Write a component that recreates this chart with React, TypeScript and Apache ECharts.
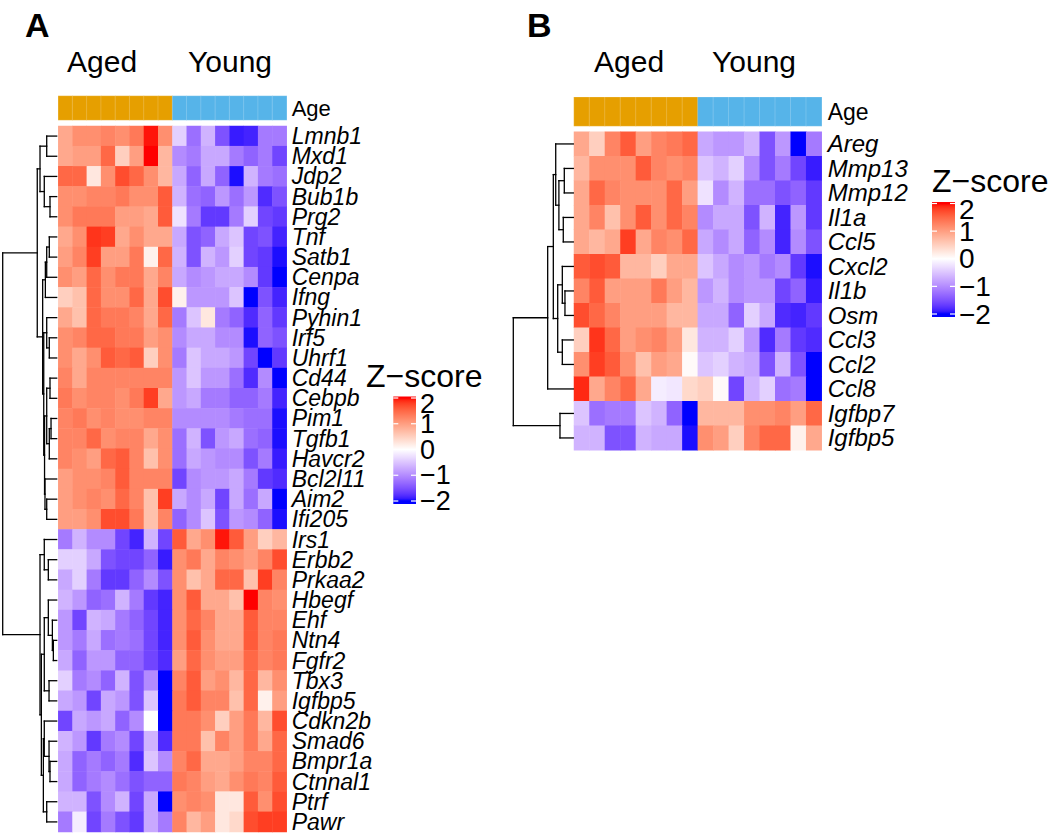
import React, { useEffect, useRef } from 'react';
import * as echarts from 'echarts';

const FONT = '"Liberation Sans", Arial, Helvetica, sans-serif';

const genesA = ['Lmnb1','Mxd1','Jdp2','Bub1b','Prg2','Tnf','Satb1','Cenpa','Ifng','Pyhin1','Irf5','Uhrf1','Cd44','Cebpb','Pim1','Tgfb1','Havcr2','Bcl2l11','Aim2','Ifi205','Irs1','Erbb2','Prkaa2','Hbegf','Ehf','Ntn4','Fgfr2','Tbx3','Igfbp5','Cdkn2b','Smad6','Bmpr1a','Ctnnal1','Ptrf','Pawr'];
const genesB = ['Areg','Mmp13','Mmp12','Il1a','Ccl5','Cxcl2','Il1b','Osm','Ccl3','Ccl2','Ccl8','Igfbp7','Igfbp5'];
const samples = ['A1','A2','A3','A4','A5','A6','A7','A8','Y1','Y2','Y3','Y4','Y5','Y6','Y7','Y8'];
const groupNames = ['Aged', 'Young'];
const sampleGroup = [0,0,0,0,0,0,0,0,1,1,1,1,1,1,1,1];
const ageColors = ['#E69F00', '#56B4E9'];
const legendTicks = [-2, -1, 0, 1, 2];

// z-scores, Aged 1-8 then Young 1-8
const zA = [
  [0.9,1.15,1.15,1.25,1.15,1.35,1.95,1.15, -0.4,-1.25,-0.65,-1.5,-1.9,-1.85,-1.15,-1.15],
  [0.9,1.0,1.0,1.5,0.5,1.0,2.0,0.75, -1.0,-1.15,-0.75,-0.75,-1.15,-1.35,-1.15,-1.6],
  [1.5,1.5,0.25,1.15,1.7,1.5,1.15,0.75, -0.75,-1.35,-0.75,-1.35,-1.95,-0.65,-1.15,-1.25],
  [1.15,1.15,1.25,1.25,1.35,1.15,1.15,1.6, -0.65,-1.25,-1.35,-0.9,-1.25,-0.9,-1.8,-1.5],
  [1.15,1.35,1.35,1.35,1.0,1.0,0.9,1.6, -0.25,-1.15,-1.7,-1.7,-1.15,-0.4,-1.6,-1.7],
  [0.9,1.15,1.85,1.8,0.9,1.15,0.9,0.9, -0.75,-1.5,-1.35,-0.75,-0.5,-1.6,-1.5,-1.85],
  [1.0,1.25,1.8,1.0,1.0,1.35,0.15,1.5, -0.65,-1.5,-0.65,-0.9,-0.4,-1.6,-1.7,-1.95],
  [1.15,1.0,1.5,1.15,1.35,1.35,0.9,1.25, -0.75,-1.0,-0.9,-0.75,-0.75,-1.0,-1.7,-2.0],
  [0.5,0.65,1.5,1.15,1.15,1.5,0.9,1.7, 0.15,-0.9,-0.9,-0.9,-0.5,-2.0,-1.5,-1.85],
  [0.9,0.65,1.5,1.35,1.35,1.25,0.9,1.5, -1.15,-0.5,0.25,-1.15,-1.35,-1.8,-1.35,-1.7],
  [1.15,1.25,1.5,1.5,1.35,1.35,1.0,1.15, -1.0,-0.75,-0.75,-1.0,-1.0,-1.95,-1.35,-1.5],
  [1.15,0.9,1.15,1.6,1.5,1.6,0.5,1.15, -1.15,-0.5,-0.75,-0.75,-0.9,-1.6,-2.0,-1.7],
  [1.25,0.9,1.25,1.25,1.25,1.25,1.25,1.25, -0.9,-0.5,-0.9,-0.9,-1.25,-1.8,-1.0,-2.0],
  [1.35,1.15,1.25,1.25,1.15,1.35,1.8,0.9, -0.9,-0.75,-1.15,-1.15,-1.35,-1.35,-1.15,-1.85],
  [1.25,1.35,1.15,1.25,1.15,1.15,1.25,1.25, -1.0,-1.0,-1.0,-1.0,-1.15,-1.25,-1.25,-1.95],
  [1.25,1.25,1.5,1.15,1.25,1.25,0.9,1.15, -1.25,-0.65,-1.5,-0.9,-0.75,-1.25,-1.35,-1.95],
  [1.25,1.15,1.0,1.5,1.6,1.25,0.65,1.15, -1.25,-0.75,-0.9,-1.0,-1.0,-1.5,-1.15,-1.9],
  [1.0,1.15,1.15,1.25,1.6,1.25,1.25,1.25, -1.6,-1.0,-0.9,-0.9,-0.75,-1.15,-1.7,-1.8],
  [1.0,1.15,1.25,1.15,1.5,1.25,0.65,1.8, -0.75,-1.0,-0.75,-1.6,-0.75,-1.25,-0.75,-2.0],
  [1.0,1.0,1.15,1.7,1.7,1.35,0.65,1.25, -1.35,-1.0,-0.5,-1.5,-0.9,-1.0,-1.35,-1.95],
  [-1.15,-0.65,-1.0,-1.0,-1.6,-1.85,-0.65,-1.6, 1.6,0.9,1.15,1.95,1.6,1.0,0.5,0.75],
  [-0.4,-0.4,-0.75,-1.5,-1.6,-1.6,-1.35,-1.9, 1.15,1.35,0.9,1.25,1.15,1.0,1.25,1.7],
  [-0.75,-0.4,-1.15,-1.7,-1.7,-1.35,-1.0,-1.5, 1.15,0.65,0.9,1.5,1.5,0.65,1.8,1.25],
  [-0.65,-0.9,-1.35,-1.25,-0.65,-1.15,-1.7,-1.85, 1.15,1.6,0.9,0.9,0.65,2.0,1.25,1.15],
  [-0.9,-1.6,-0.65,-0.75,-1.15,-1.35,-1.6,-1.85, 1.15,1.5,1.25,0.9,0.9,1.6,1.25,1.25],
  [-0.9,-1.15,-0.75,-1.25,-1.15,-1.25,-1.6,-1.85, 1.15,1.6,1.15,0.9,0.9,1.6,1.25,1.35],
  [-0.75,-1.35,-0.9,-0.9,-1.35,-1.35,-1.6,-1.8, 1.0,1.5,1.15,1.0,1.0,1.5,1.25,1.35],
  [-0.4,-1.15,-1.0,-1.35,-0.65,-1.5,-1.0,-2.0, 1.25,1.6,1.0,1.15,0.75,1.5,0.75,1.15],
  [-0.75,-0.9,-1.6,-0.75,-0.9,-1.5,-0.5,-2.0, 1.35,1.6,1.25,1.25,0.65,1.5,0.15,1.0],
  [-1.6,-0.75,-0.9,-0.75,-1.35,-1.0,0.0,-2.0, 1.35,1.35,1.15,0.5,1.0,1.35,0.75,1.7],
  [-0.65,-0.9,-1.7,-1.15,-1.0,-1.6,-0.65,-1.8, 1.35,1.35,0.65,1.25,1.0,1.35,0.9,1.5],
  [-0.75,-1.35,-1.15,-1.35,-1.15,-1.8,-0.5,-1.0, 1.25,1.5,0.9,0.9,1.0,1.25,1.25,1.5],
  [-0.75,-1.35,-1.15,-1.0,-1.25,-1.5,-1.35,-1.35, 1.35,1.25,1.0,0.9,1.15,1.35,1.25,1.6],
  [-0.65,-0.65,-1.5,-1.0,-0.65,-1.6,-0.75,-2.0, 1.15,1.25,1.15,0.25,0.25,1.6,1.15,1.7],
  [-1.15,-0.15,-1.6,-1.15,-1.5,-1.7,-0.75,-1.15, 1.25,0.75,1.0,0.25,0.4,1.7,1.8,1.8],
];

const zB = [
  [0.9,0.5,1.25,1.6,1.0,1.25,1.35,1.5, -0.75,-0.9,-0.9,-0.65,-1.5,-0.9,-2.0,-1.15],
  [0.75,1.15,1.15,1.15,1.6,1.25,1.15,1.25, -0.5,-0.65,-0.4,-1.0,-1.5,-1.15,-1.6,-1.9],
  [0.9,1.5,1.25,1.15,1.15,1.15,1.5,1.0, -0.25,-1.0,-0.65,-1.25,-1.25,-1.5,-1.35,-1.7],
  [0.9,1.25,0.65,1.15,1.6,1.15,1.5,1.25, -1.0,-0.75,-0.75,-1.5,-0.65,-1.85,-0.9,-1.7],
  [0.9,0.75,0.9,1.8,0.9,1.25,1.15,1.5, -0.75,-1.0,-0.75,-1.35,-1.0,-1.85,-1.0,-1.5],
  [1.6,1.7,1.6,0.75,0.75,0.5,0.9,0.9, -0.5,-0.75,-1.0,-0.9,-1.15,-1.0,-1.7,-1.95],
  [1.25,1.6,1.0,1.0,1.0,1.35,1.0,0.75, -0.9,-0.65,-1.0,-0.9,-0.9,-1.6,-1.35,-1.9],
  [1.7,1.5,1.25,1.0,1.0,1.0,0.75,0.75, -0.75,-0.75,-1.35,-0.4,-0.75,-1.8,-1.85,-1.7],
  [0.5,1.85,1.5,1.0,1.15,1.25,1.0,0.25, -0.65,-0.65,-0.4,-0.9,-1.8,-1.15,-1.7,-1.8],
  [1.15,1.8,1.6,1.15,0.65,1.0,0.9,0.05, -0.5,-0.4,-0.65,-0.75,-1.5,-0.65,-1.5,-2.0],
  [1.9,0.9,1.25,1.5,0.9,-0.15,-0.2,0.4, 0.5,0.05,-1.6,-0.65,-0.4,-1.25,-1.15,-2.0],
  [-0.5,-1.25,-1.15,-1.15,-0.5,-0.65,-1.35,-2.0, 0.75,0.75,0.75,1.15,1.15,1.25,1.0,1.5],
  [-0.65,-0.65,-1.5,-1.5,-0.65,-0.75,-0.75,-1.95, 1.15,1.0,0.5,1.25,1.5,1.5,0.15,0.9],
];

// dendrograms: [left, right, height]; leaves are row indices
const treeA = [
  [
    [[0, 1, 1.85], [2, [3, 4, 1.24], 2.3], 3.09],
    [
      [[[5, 6, 1.37], 7, 1.85], 8, 2.1],
      [
        [9, [10, 11, 1.37], 1.85],
        [[[12, 13, 1.24], [[14, 15, 1.05], 16, 1.37], 1.85], [17, [18, 19, 1.85], 2.17], 2.25],
        2.4,
      ],
      2.6,
    ],
    3.6,
  ],
  [
    [20, [21, 22, 1.55], 2.3],
    [
      [[23, [24, [25, 26, 0.62], 0.8], 1.55], [27, 28, 1.42], 2.3],
      [[29, [30, [31, 32, 1.24], 1.42], 2.3], [33, 34, 1.85], 2.47],
      2.84,
    ],
    3.09,
  ],
  10,
];

const treeB = [
  [
    [[0, [[1, 2, 1.5], [3, 4, 1.67], 2.4], 2.93], [[5, [6, 7, 1.39], 1.83], [8, 9, 1.83], 2.6], 3.33],
    10,
    4.27,
  ],
  [11, 12, 2.22],
  10,
];

// ---------- colour ramp (LAB interpolation blue - white - red) ----------
function toLin(c: number) { c /= 255; return c <= 0.04045 ? c / 12.92 : Math.pow((c + 0.055) / 1.055, 2.4); }
function fromLin(c: number) { const v = c <= 0.0031308 ? 12.92 * c : 1.055 * Math.pow(c, 1 / 2.4) - 0.055; return Math.round(Math.max(0, Math.min(1, v)) * 255); }
function rgbToLab(rgb: number[]) {
  const [r, g, b] = rgb.map(toLin);
  const X = (0.4124 * r + 0.3576 * g + 0.1805 * b) / 0.95047;
  const Y = 0.2126 * r + 0.7152 * g + 0.0722 * b;
  const Z = (0.0193 * r + 0.1192 * g + 0.9505 * b) / 1.08883;
  const f = (t: number) => (t > 0.008856 ? Math.cbrt(t) : 7.787 * t + 16 / 116);
  return [116 * f(Y) - 16, 500 * (f(X) - f(Y)), 200 * (f(Y) - f(Z))];
}
function labToHex(lab: number[]) {
  const fy = (lab[0] + 16) / 116, fx = fy + lab[1] / 500, fz = fy - lab[2] / 200;
  const inv = (t: number) => (t * t * t > 0.008856 ? t * t * t : (t - 16 / 116) / 7.787);
  const X = inv(fx) * 0.95047, Y = inv(fy), Z = inv(fz) * 1.08883;
  const r = 3.2406 * X - 1.5372 * Y - 0.4986 * Z;
  const g = -0.9689 * X + 1.8758 * Y + 0.0415 * Z;
  const b = 0.0557 * X - 0.204 * Y + 1.057 * Z;
  return '#' + [r, g, b].map((c) => fromLin(c).toString(16).padStart(2, '0')).join('');
}
const LAB_BLUE = rgbToLab([0, 0, 255]);
const LAB_WHITE = rgbToLab([255, 255, 255]);
const LAB_RED = rgbToLab([255, 0, 0]);
function rampColor(v: number) {
  const x = Math.max(-2, Math.min(2, v));
  const a = x <= 0 ? LAB_BLUE : LAB_WHITE;
  const b = x <= 0 ? LAB_WHITE : LAB_RED;
  const t = x <= 0 ? (x + 2) / 2 : x / 2;
  return labToHex([0, 1, 2].map((i) => a[i] + (b[i] - a[i]) * t));
}
const rampColors = Array.from({ length: 41 }, (_, k) => rampColor(-2 + k * 0.1));

// ---------- dendrogram layout ----------
function layoutTree(node: any, segs: number[][]): { y: number; h: number } {
  if (typeof node === 'number') return { y: node + 0.5, h: 0 };
  const L = layoutTree(node[0], segs);
  const R = layoutTree(node[1], segs);
  const h = node[2];
  segs.push([L.h, L.y, h, L.y]);
  segs.push([R.h, R.y, h, R.y]);
  segs.push([h, L.y, h, R.y]);
  return { y: (L.y + R.y) / 2, h };
}

function heatData(z: number[][]) {
  const out: number[][] = [];
  z.forEach((row, r) => row.forEach((v, c) => out.push([c, r, v])));
  return out;
}

const minus = (v: number) => String(v).replace('-', '\u2212');

export default function App() {
  const ref = useRef<HTMLDivElement>(null);
  useEffect(() => {
    if (!ref.current) return;
    const chart = echarts.init(ref.current, undefined, { renderer: 'svg' });
    const segA: number[][] = [];
    layoutTree(treeA, segA);
    const segB: number[][] = [];
    layoutTree(treeB, segB);

    const G = (left: number, top: number, width: number, height: number) => ({
      left, top, width, height, containLabel: false, outerBoundsMode: 'none',
    });
    const hiddenVal = (gi: number, min: number, max: number, inverse = false) => ({
      type: 'value', gridIndex: gi, min, max, inverse, show: false,
    });
    const catHidden = (gi: number, data: string[]) => ({
      type: 'category', gridIndex: gi, data, show: false,
    });
    const labelAxis = (gi: number, data: string[], size: number, italic: boolean, margin: number, lh: number) => ({
      type: 'category', gridIndex: gi, data, inverse: true, position: 'right',
      axisLine: { show: false }, axisTick: { show: false }, splitLine: { show: false },
      axisLabel: { show: true, interval: 0, margin, fontSize: size, lineHeight: lh, fontStyle: italic ? 'italic' : 'normal', color: '#000', fontFamily: FONT },
    });

    const dendroRender = (params: any, api: any) => {
      const p1 = api.coord([api.value(0), api.value(1)]);
      const p2 = api.coord([api.value(2), api.value(3)]);
      return {
        type: 'line',
        shape: { x1: p1[0], y1: p1[1], x2: p2[0], y2: p2[1] },
        style: { stroke: '#000', lineWidth: 1.3, lineCap: 'square' },
      };
    };
    const legendRender = (fontSize: number, lh: number) => (params: any, api: any) => {
      const a = api.coord([0, 2]);
      const b = api.coord([1, -2]);
      const x0 = a[0], x1 = b[0];
      const yTop = a[1] - 1.5, yBot = b[1] + 3;
      const stops: any[] = [{ offset: 0, color: rampColor(2) }];
      for (let k = 0; k <= 40; k++) {
        const v = 2 - k * 0.1;
        const off = (api.coord([0, v])[1] - yTop) / (yBot - yTop);
        stops.push({ offset: Math.max(0, Math.min(1, off)), color: rampColor(v) });
      }
      stops.push({ offset: 1, color: rampColor(-2) });
      const children: any[] = [
        {
          type: 'rect',
          shape: { x: x0, y: yTop, width: x1 - x0, height: yBot - yTop },
          style: { fill: { type: 'linear', x: 0, y: 0, x2: 0, y2: 1, colorStops: stops } },
        },
      ];
      const maxTick = Math.max(...legendTicks);
      legendTicks.forEach((t) => {
        const y = api.coord([0, t])[1];
        children.push({ type: 'line', shape: { x1: x0, y1: y, x2: x0 + 5, y2: y }, style: { stroke: '#fff', lineWidth: 1.2 } });
        children.push({ type: 'line', shape: { x1: x1 - 5, y1: y, x2: x1, y2: y }, style: { stroke: '#fff', lineWidth: 1.2 } });
        children.push({
          type: 'text',
          x: x1 + 4,
          y: t === maxTick ? y + 6 : y,
          style: {
            text: minus(t), font: `${fontSize}px ${FONT}`, fill: '#000', lineHeight: lh,
            textAlign: 'left', textVerticalAlign: 'middle', verticalAlign: 'middle',
          },
        });
      });
      return { type: 'group', children };
    };

    const text = (t: string, x: number, y: number, size: number, bold = false) => ({
      type: 'text', x, y,
      style: { text: t, font: `${bold ? 'bold ' : ''}${size}px ${FONT}`, fill: '#000', textAlign: 'left', textVerticalAlign: 'middle' },
    });

    const option: any = {
      animation: false,
      backgroundColor: '#fff',
      textStyle: { fontFamily: FONT },
      grid: [
        G(58.3, 126, 228.4, 706), // 0 heat A
        G(58.3, 96, 228.4, 24), // 1 annot A
        G(2.7, 126, 54, 706), // 2 dendro A
        G(574, 131.7, 247.7, 318.5), // 3 heat B
        G(574, 97.3, 247.7, 28.7), // 4 annot B
        G(513.3, 131.7, 60, 318.5), // 5 dendro B
        G(393.3, 398, 22.7, 103), // 6 legend A
        G(932, 203.5, 23, 110.5), // 7 legend B
      ],
      xAxis: [
        catHidden(0, samples),
        catHidden(1, samples),
        hiddenVal(2, 0, 10, true),
        catHidden(3, samples),
        catHidden(4, samples),
        hiddenVal(5, 0, 10, true),
        hiddenVal(6, 0, 1),
        hiddenVal(7, 0, 1),
      ],
      yAxis: [
        labelAxis(0, genesA, 23, true, 5, 20),
        labelAxis(1, ['Age'], 22, false, 5, 22),
        hiddenVal(2, 0, genesA.length, true),
        labelAxis(3, genesB, 24, true, 6, 24),
        labelAxis(4, ['Age'], 23, false, 6, 24),
        hiddenVal(5, 0, genesB.length, true),
        hiddenVal(6, -2, 2),
        hiddenVal(7, -2, 2),
      ],
      visualMap: [
        { type: 'continuous', show: false, min: -2, max: 2, dimension: 2, seriesIndex: [0, 1], inRange: { color: rampColors } },
        {
          type: 'piecewise', show: false, dimension: 2, seriesIndex: [2, 3],
          pieces: groupNames.map((n, i) => ({ value: i, label: n, color: ageColors[i] })),
        },
      ],
      series: [
        { type: 'heatmap', xAxisIndex: 0, yAxisIndex: 0, data: heatData(zA), emphasis: { disabled: true } },
        { type: 'heatmap', xAxisIndex: 3, yAxisIndex: 3, data: heatData(zB), emphasis: { disabled: true } },
        {
          type: 'heatmap', xAxisIndex: 1, yAxisIndex: 1, emphasis: { disabled: true },
          data: sampleGroup.map((g, i) => [i, 0, g]),
          itemStyle: { borderColor: 'rgba(255,255,255,0.3)', borderWidth: 0.6 },
        },
        {
          type: 'heatmap', xAxisIndex: 4, yAxisIndex: 4, emphasis: { disabled: true },
          data: sampleGroup.map((g, i) => [i, 0, g]),
          itemStyle: { borderColor: 'rgba(255,255,255,0.3)', borderWidth: 0.6 },
        },
        { type: 'custom', xAxisIndex: 2, yAxisIndex: 2, data: segA, encode: { x: [0, 2], y: [1, 3] }, renderItem: dendroRender, clip: false, silent: true },
        { type: 'custom', xAxisIndex: 5, yAxisIndex: 5, data: segB, encode: { x: [0, 2], y: [1, 3] }, renderItem: dendroRender, clip: false, silent: true },
        { type: 'custom', xAxisIndex: 6, yAxisIndex: 6, data: [[0, 0]], encode: { x: 0, y: 1 }, renderItem: legendRender(27, 24), clip: false, silent: true },
        { type: 'custom', xAxisIndex: 7, yAxisIndex: 7, data: [[0, 0]], encode: { x: 0, y: 1 }, renderItem: legendRender(28, 26), clip: false, silent: true },
      ],
      graphic: [
        text('A', 25, 25, 34, true),
        text('B', 527, 25, 34, true),
        text(groupNames[0], 67, 61, 30),
        text(groupNames[1], 188, 61, 30),
        text(groupNames[0], 594, 61, 30),
        text(groupNames[1], 712, 61, 30),
        text('Z\u2212score', 366, 376, 32),
        text('Z\u2212score', 932, 181, 32),
      ],
    };
    chart.setOption(option);
    return () => chart.dispose();
  }, []);
  return (
    <div
      ref={ref}
      style={{ position: 'absolute', left: 0, top: 0, width: 1050, height: 837, background: '#fff' }}
    />
  );
}
